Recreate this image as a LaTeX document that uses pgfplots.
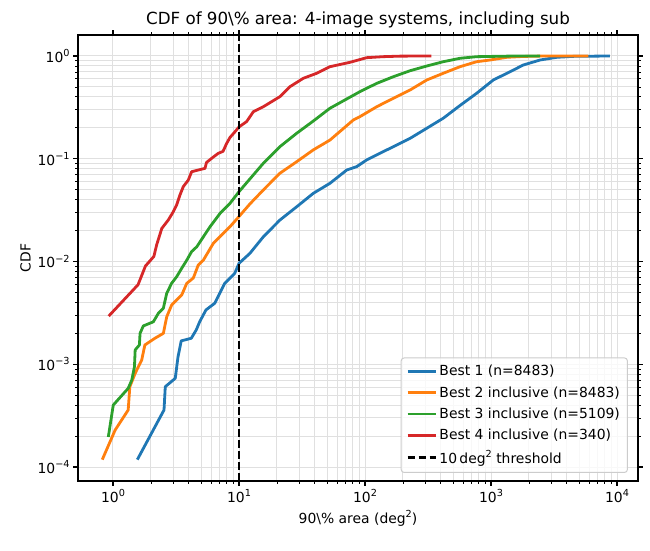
\documentclass[border=0pt]{standalone}
\usepackage{fontspec}
\setmainfont{DejaVu Sans}
\usepackage{pgfplots}
\pgfplotsset{compat=1.18}

\definecolor{tabblue}{HTML}{1F77B4}
\definecolor{taborange}{HTML}{FF7F0E}
\definecolor{tabgreen}{HTML}{2CA02C}
\definecolor{tabred}{HTML}{D62728}
\definecolor{gridgray}{RGB}{224,224,224}
\definecolor{legframe}{RGB}{204,204,204}

\newcommand\sups[1]{\raisebox{0.42em}{\fontsize{9.7}{10}\selectfont #1}}
\newcommand\tickfont{\fontsize{13.9}{16}\selectfont}

\begin{document}
\begin{tikzpicture}
\begin{axis}[
  at={(0pt,0pt)}, anchor=south west,
  scale only axis, width=560pt, height=446pt,
  xmode=log, ymode=log,
  xmin=0.5275, xmax=14678, ymin=7.31e-5, ymax=1.601,
  axis line style={line width=1.1pt},
  tick align=outside,
  major tick length=4.9pt, minor tick length=2.8pt,
  every tick/.style={black, line width=1.1pt},
  minor tick style={line width=0.8pt},
  xtick={1,10,100,1000,10000},
  xticklabels={10\sups{0},10\sups{1},10\sups{2},10\sups{3},10\sups{4}},
  ytick={1e-4,1e-3,1e-2,1e-1,1},
  yticklabels={10\sups{−4},10\sups{−3},10\sups{−2},10\sups{−1},10\sups{0}},
  ticklabel style={font=\tickfont},
  grid=both,
  major grid style={gridgray, line width=1pt},
  minor grid style={gridgray, line width=1pt},
  title={CDF of 90\textbackslash\% area: 4-image systems, including sub},
  title style={font=\fontsize{16.7}{19}\selectfont, yshift=-3pt},
  xlabel={90\textbackslash\% area (deg\sups{2})},
  ylabel={CDF},
  label style={font=\tickfont},
  xlabel style={yshift=-1pt},
  legend cell align=left,
  legend image code/.code={\draw[line width=2.8pt,#1] (0pt,0pt) -- (28pt,0pt);},
  legend style={
    at={(0.982,0.018)}, anchor=south east,
    font=\tickfont, draw=legframe, line width=1pt, rounded corners=3pt,
    fill=white, fill opacity=0.8, text opacity=1,
    inner xsep=5pt, inner ysep=5pt, row sep=4.2pt,
    nodes={inner sep=2.5pt}
  },
  every axis plot/.append style={line width=2.8pt, line join=round},
]

% Best 1 (n=8483)
\addplot[tabblue] coordinates {
(1.56,1.18e-4) (2.54,3.59e-4) (2.60,6.05e-4) (3.12,7.30e-4) (3.28,1.18e-3)
(3.48,1.69e-3) (4.18,1.79e-3) (4.58,2.16e-3) (4.88,2.60e-3) (5.47,3.38e-3)
(6.41,3.92e-3) (7.70,6.13e-3) (9.25,7.68e-3) (10.0,9.6e-3) (12.2,0.0120)
(15.6,0.0174) (21.1,0.0253) (28.7,0.0341) (38.9,0.0461) (52.7,0.0577)
(71.6,0.0777) (85.9,0.0838) (103,0.0973) (131,0.113) (168,0.131)
(228,0.158) (309,0.198) (418,0.248) (568,0.330) (770,0.434)
(1043,0.584) (1415,0.703) (1804,0.817) (2449,0.914) (3322,0.971)
(4500,0.992) (8790,1.0)
};
\addlegendentry{Best 1 (n=8483)}

% Best 2 inclusive (n=8483)
\addplot[taborange] coordinates {
(0.822,1.18e-4) (1.04,2.29e-4) (1.32,3.59e-4) (1.36,6.05e-4) (1.50,8.17e-4)
(1.69,1.10e-3) (1.79,1.54e-3) (2.15,1.79e-3) (2.51,2.00e-3) (2.67,2.90e-3)
(2.92,3.77e-3) (3.51,4.72e-3) (3.85,6.13e-3) (4.34,6.91e-3) (4.75,9.24e-3)
(5.21,0.0103) (6.25,0.0150) (7.50,0.0188) (8.48,0.0218) (9.87,0.0269)
(12.2,0.0363) (15.6,0.0497) (21.1,0.0722) (28.7,0.0936) (38.9,0.122)
(52.7,0.152) (80.7,0.238) (91.2,0.257) (124,0.321) (168,0.388)
(228,0.467) (309,0.584) (418,0.679) (568,0.787) (770,0.880)
(982,0.914) (1333,0.971) (1804,0.990) (2449,0.998) (5920,1.0)
};
\addlegendentry{Best 2 inclusive (n=8483)}

% Best 3 inclusive (n=5109)
\addplot[tabgreen] coordinates {
(0.918,1.96e-4) (1.005,4.01e-4) (1.32,5.83e-4) (1.41,7.03e-4) (1.48,9.46e-4)
(1.50,1.38e-3) (1.62,1.54e-3) (1.64,2.00e-3) (1.74,2.36e-3) (2.09,2.59e-3)
(2.29,3.13e-3) (2.51,3.51e-3) (2.67,4.91e-3) (2.92,6.14e-3) (3.20,7.11e-3)
(3.51,8.59e-3) (3.85,0.0103) (4.21,0.0125) (4.62,0.0139) (5.89,0.0218)
(7.07,0.0294) (8.48,0.0368) (10.0,0.0478) (12.2,0.0636) (15.6,0.0903)
(21.1,0.131) (28.7,0.177) (38.9,0.233) (52.7,0.310) (91.2,0.450)
(124,0.542) (168,0.629) (228,0.719) (309,0.799) (418,0.880)
(568,0.950) (770,0.985) (1415,0.998) (2450,1.0)
};
\addlegendentry{Best 3 inclusive (n=5109)}

% Best 4 inclusive (n=340)
\addplot[tabred] coordinates {
(0.924,2.94e-3) (1.58,5.94e-3) (1.81,9.04e-3) (2.11,0.0112) (2.22,0.0145)
(2.44,0.0210) (2.75,0.0254) (3.01,0.0305) (3.20,0.0355) (3.40,0.0444)
(3.61,0.0534) (3.96,0.0621) (4.21,0.0748) (5.37,0.0807) (5.52,0.092)
(6.07,0.101) (6.85,0.113) (7.47,0.118) (7.98,0.141) (8.48,0.161)
(9.29,0.183) (10.0,0.204) (11.5,0.230) (13.0,0.287) (15.6,0.321)
(21.1,0.402) (25.4,0.503) (32.4,0.607) (41.4,0.679) (52.7,0.787)
(76.0,0.868) (103,0.963) (139,0.985) (190,0.997) (337,1.0)
};
\addlegendentry{Best 4 inclusive (n=340)}

% threshold marker
\addplot[black, line width=2.1pt, dash pattern=on 7.7pt off 3.3pt, line cap=butt] coordinates {(10,7.31e-5) (10,1.601)};
\addlegendentry{10\,deg\sups{2} threshold}

\end{axis}
\path (-78pt,-69pt) rectangle (572pt,481pt);
\end{tikzpicture}
\end{document}
